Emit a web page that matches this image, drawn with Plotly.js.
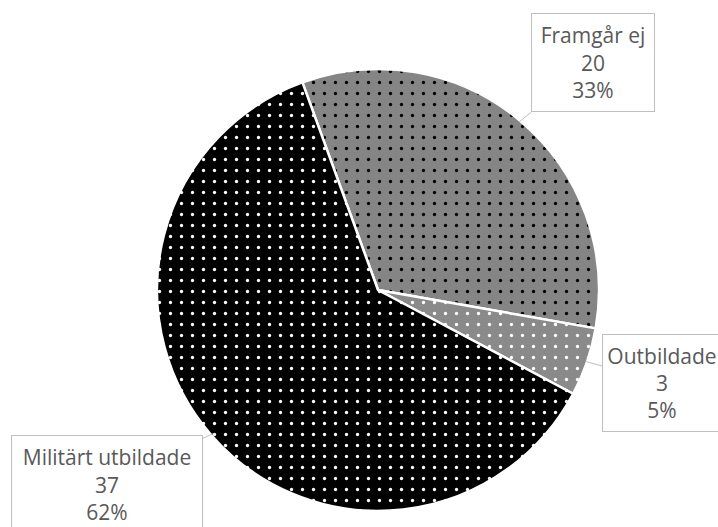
<!DOCTYPE html>
<html>
<head>
<meta charset="utf-8">
<script src="https://cdn.plot.ly/plotly-3.0.1.min.js"></script>
<style>
html,body{margin:0;padding:0;background:#fff;}
#chart{width:718px;height:527px;}
</style>
</head>
<body>
<div id="chart"></div>
<script>
// Data
const labels = ['Framgår ej', 'Outbildade', 'Militärt utbildade'];
const values = [20, 3, 37];

// Styling / layout
const W = 718, H = 527;
const cx = 378, cy = 290, r = 221;
const rotationDeg = -20;
const bgColors = ['#858585', '#8a8a8a', '#000000'];
const fgColors = ['#000000', '#ffffff', '#ffffff'];
const boxCenters = [[593, 63], [662, 383], [107, 484]];
const boxSizes = [[122, 97], [118, 96], [190, 97]];

const total = values.reduce((a, b) => a + b, 0);

const trace = {
  type: 'pie',
  labels: labels,
  values: values,
  sort: false,
  direction: 'clockwise',
  rotation: rotationDeg,
  textinfo: 'none',
  hoverinfo: 'none',
  showlegend: false,
  domain: {x: [(cx - r) / W, (cx + r) / W], y: [1 - (cy + r) / H, 1 - (cy - r) / H]},
  marker: {
    colors: bgColors,
    line: {color: '#ffffff', width: 2.5},
    pattern: {
      shape: '.',
      bgcolor: bgColors,
      fgcolor: fgColors,
      size: 11,
      solidity: 0.07,
      fillmode: 'replace'
    }
  }
};

const annotations = [];
let cum = 0;
values.forEach((v, i) => {
  const mid = (rotationDeg + 360 * (cum + v / 2) / total) * Math.PI / 180;
  cum += v;
  const tx = cx + (r - 2) * Math.sin(mid);
  const ty = cy - (r - 2) * Math.cos(mid);
  const pct = Math.round(v / total * 100);
  const pad = 1;
  annotations.push({
    xref: 'paper', yref: 'paper', axref: 'paper', ayref: 'paper',
    x: tx / W, y: 1 - ty / H,
    ax: boxCenters[i][0] / W, ay: 1 - boxCenters[i][1] / H,
    text: labels[i] + '<br>' + v + '<br>' + pct + '%',
    showarrow: true, arrowhead: 0, arrowwidth: 1, arrowcolor: '#bfbfbf',
    standoff: 0, startstandoff: 0,
    width: boxSizes[i][0] - 2 * pad, height: boxSizes[i][1] - 2 * pad,
    borderpad: pad, bordercolor: '#bfbfbf', borderwidth: 1, bgcolor: '#ffffff',
    align: 'center', valign: 'middle',
    font: {family: 'Open Sans, sans-serif', size: 21, color: '#595959'}
  });
});

const layout = {
  width: W, height: H,
  margin: {l: 0, r: 0, t: 0, b: 0},
  paper_bgcolor: '#ffffff',
  plot_bgcolor: '#ffffff',
  showlegend: false,
  annotations: annotations
};

Plotly.newPlot('chart', [trace], layout, {displayModeBar: false, staticPlot: true});
</script>
</body>
</html>
